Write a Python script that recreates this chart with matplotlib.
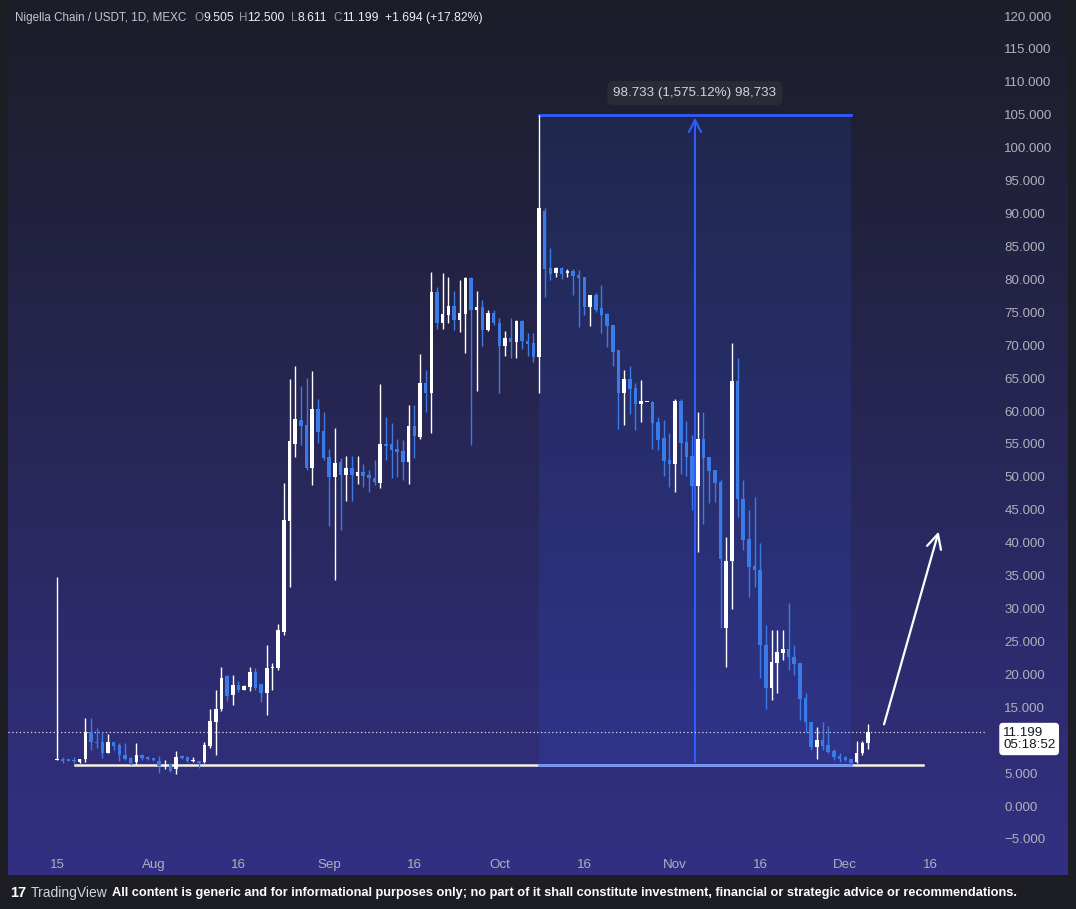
import numpy as np
import pandas as pd
import matplotlib.pyplot as plt
from matplotlib.patches import Rectangle

# Nigella Chain / USDT daily candles (index 0 = Jul 15)
opens = [7.0, 7.1, 7.0, 7.0, 6.7, 7.1, 11.2, 9.8, 9.7, 8.1,
         9.7, 9.2, 7.8, 7.3, 6.7, 7.8, 7.4, 7.3, 6.9, 6.1,
         6.4, 5.7, 7.6, 7.5, 6.8, 6.8, 6.7, 9.1, 12.8, 14.8,
         19.7, 16.9, 18.4, 17.7, 18.1, 20.3, 18.5, 17.1, 20.9, 21.0,
         26.5, 43.3, 55.0, 58.7, 57.9, 51.4, 60.3, 57.0, 53.0, 50.0,
         52.2, 50.3, 51.4, 50.2, 50.8, 50.3, 49.9, 49.1, 55.0, 55.0,
         54.2, 53.9, 52.2, 57.7, 56.1, 64.3, 62.8, 78.1, 73.4, 74.6,
         76.0, 73.9, 74.8, 80.2, 75.3, 75.8, 72.3, 74.9, 73.4, 69.9,
         71.1, 70.5, 73.7, 70.7, 70.3, 68.2, 90.4, 81.7, 80.9, 81.8,
         81.0, 81.3, 80.7, 80.3, 75.8, 77.7, 75.6, 74.7, 73.1, 69.3,
         62.7, 64.9, 63.5, 61.1, 61.4, 61.4, 58.3, 55.9, 52.6, 52.0,
         61.5, 55.3, 53.2, 48.6, 55.7, 53.0, 51.1, 49.2, 27.1, 37.2,
         64.6, 46.7, 40.6, 36.5, 35.9, 24.5, 17.9, 21.8, 23.2, 23.8,
         22.6, 21.8, 16.4, 12.8, 9.0, 10.0, 9.3, 8.4, 7.6, 7.4,
         7.1, 6.7, 8.0, 9.505]
highs = [34.8, 7.4, 7.1, 7.4, 7.2, 13.3, 13.3, 11.8, 11.3, 11.0,
         9.8, 9.5, 9.5, 7.4, 9.5, 7.9, 7.6, 7.3, 7.6, 7.0,
         6.5, 8.3, 7.8, 7.6, 7.4, 6.9, 9.8, 14.7, 17.6, 21.1,
         19.9, 19.9, 19.0, 18.4, 21.1, 21.0, 18.6, 24.5, 21.7, 27.6,
         49.0, 64.8, 66.8, 63.8, 65.0, 66.1, 61.9, 59.9, 54.2, 57.5,
         52.8, 53.2, 53.2, 53.2, 52.0, 51.0, 52.6, 64.1, 59.1, 58.2,
         55.7, 55.6, 60.9, 60.9, 68.7, 66.3, 81.1, 78.9, 81.0, 80.4,
         78.2, 79.9, 80.4, 80.4, 78.2, 76.8, 75.3, 75.3, 74.1, 72.2,
         74.1, 73.9, 73.9, 71.9, 71.8, 105.0, 90.8, 84.7, 81.9, 81.9,
         81.6, 81.6, 81.4, 80.4, 77.6, 77.9, 79.1, 74.9, 73.1, 69.3,
         66.2, 66.9, 64.2, 64.7, 61.4, 61.5, 59.1, 58.6, 56.6, 61.8,
         61.8, 58.5, 56.4, 59.9, 59.9, 53.0, 51.1, 49.5, 40.9, 70.4,
         68.0, 49.5, 45.0, 47.0, 39.9, 27.5, 26.8, 26.7, 26.7, 30.9,
         24.5, 21.8, 17.1, 12.8, 12.0, 12.8, 12.1, 8.7, 8.0, 7.6,
         7.1, 9.9, 9.9, 12.5]
lows = [7.0, 6.5, 6.8, 6.5, 6.6, 6.7, 8.5, 8.8, 7.3, 8.0,
        8.5, 6.9, 7.0, 6.3, 6.4, 7.0, 7.0, 6.9, 5.0, 5.7,
        5.1, 4.9, 7.2, 6.7, 6.7, 5.8, 6.6, 8.8, 7.7, 14.5,
        15.9, 15.4, 17.3, 17.6, 17.5, 17.6, 15.8, 13.8, 17.6, 20.6,
        26.0, 33.3, 53.0, 54.8, 51.0, 48.8, 55.1, 52.6, 42.5, 34.3,
        42.0, 46.3, 46.3, 48.9, 48.5, 47.7, 48.8, 48.3, 52.6, 49.9,
        50.0, 49.6, 48.9, 52.8, 55.8, 59.9, 56.7, 72.4, 72.4, 73.3,
        72.3, 72.0, 68.8, 54.8, 63.0, 69.9, 72.2, 73.1, 62.8, 68.4,
        68.1, 68.0, 69.5, 68.4, 67.5, 62.7, 77.4, 79.9, 80.3, 80.0,
        80.3, 77.7, 72.7, 74.6, 72.9, 75.1, 71.8, 69.7, 66.9, 57.3,
        57.9, 59.5, 57.1, 58.3, 61.4, 54.2, 54.1, 50.1, 48.5, 47.7,
        50.4, 50.1, 45.0, 38.6, 42.8, 46.0, 46.2, 27.0, 21.1, 30.0,
        43.9, 38.9, 31.8, 33.3, 19.5, 14.8, 16.1, 17.1, 22.2, 20.7,
        19.9, 13.1, 11.3, 8.5, 7.2, 8.5, 8.0, 7.0, 6.7, 6.8,
        6.27, 6.6, 7.8, 8.611]
closes = [7.2, 6.8, 6.9, 6.8, 7.1, 11.2, 9.7, 9.6, 8.1, 9.7,
          9.1, 7.8, 7.2, 6.6, 7.8, 7.3, 7.1, 7.0, 6.1, 6.3,
          5.3, 7.5, 7.3, 6.8, 7.0, 6.5, 9.2, 12.9, 14.8, 19.5,
          16.7, 18.4, 17.7, 18.2, 20.3, 18.0, 17.1, 20.9, 21.1, 26.7,
          43.4, 55.4, 58.8, 57.7, 51.3, 60.3, 56.8, 52.8, 50.0, 52.1,
          50.3, 51.4, 50.3, 50.8, 50.1, 49.9, 49.2, 55.0, 54.7, 54.1,
          53.8, 52.2, 57.7, 56.2, 64.3, 62.8, 78.1, 73.4, 74.7, 76.0,
          73.9, 74.9, 80.2, 75.3, 75.8, 72.3, 74.9, 73.3, 69.9, 71.1,
          70.5, 73.7, 70.6, 70.2, 68.2, 90.8, 81.6, 80.8, 81.8, 80.8,
          81.2, 80.5, 80.2, 75.8, 77.6, 75.3, 74.6, 72.9, 69.0, 62.7,
          64.9, 63.3, 61.1, 61.5, 61.4, 58.2, 55.6, 52.4, 52.0, 61.5,
          55.2, 53.0, 48.6, 55.7, 52.9, 50.9, 49.1, 37.6, 37.2, 64.6,
          46.7, 40.4, 36.3, 35.8, 24.5, 17.9, 21.9, 23.4, 23.8, 22.6,
          21.6, 16.3, 12.8, 9.0, 10.0, 9.1, 8.2, 7.5, 7.1, 7.0,
          6.6, 8.0, 9.5, 11.199]

tick_dates = ['2024-07-15', '2024-08-01', '2024-08-16', '2024-09-01', '2024-09-16',
              '2024-10-01', '2024-10-16', '2024-11-01', '2024-11-16', '2024-12-01',
              '2024-12-16']
tick_labels = ['15', 'Aug', '16', 'Sep', '16', 'Oct', '16', 'Nov', '16', 'Dec', '16']
# 10.000 sits under the last-price box on the original, so it is not shown
price_ticks = [v for v in range(-5, 121, 5) if v != 10]

last_price = 11.199
countdown = '05:18:52'
support_level = 6.23
support_span = (3.2, 152.7)
meas_span = (85, 140)
meas_range = (6.267, 105.0)
meas_label = '98.733 (1,575.12%) 98,733'
arrow_from = (145.7, 12.0)
arrow_to = (155.6, 42.1)

W, H = 1076, 909
UP, DOWN = '#ffffff', '#3b7be8'
LABEL = '#aeb1bb'

plt.rcParams['font.family'] = ['Liberation Sans', 'DejaVu Sans']

fig = plt.figure(figsize=(W / 100, H / 100), dpi=100)
fig.patch.set_facecolor('#1d1e23')

# gradient panel
bg = fig.add_axes([8 / W, 1 - 875 / H, 1060 / W, 875 / H])
top = np.array([0x1c, 0x1d, 0x28]) / 255
bot = np.array([0x33, 0x30, 0x84]) / 255
t = np.linspace(0, 1, 256)[:, None, None]
grad = top * (1 - t) + bot * t
bg.imshow(grad, aspect='auto', extent=(0, 1, 0, 1))
bg.set_axis_off()

ax = fig.add_axes([8 / W, 1 - 845 / H, 977 / W, 845 / H])
ax.set_facecolor('none')
ax.set_xlim(-8.64, 163.64)
ax.set_ylim(-5.92, 122.44)
for s in ax.spines.values():
    s.set_visible(False)

o = np.array(opens); h = np.array(highs); l = np.array(lows); c = np.array(closes)
x = np.arange(len(o))
cols = np.where(c >= o, UP, DOWN)

# measuring tool
ax.add_patch(Rectangle((meas_span[0], meas_range[0]), meas_span[1] - meas_span[0],
                       meas_range[1] - meas_range[0], facecolor='#2962ff', alpha=0.13,
                       edgecolor='none', zorder=1))
ax.plot(meas_span, [meas_range[1]] * 2, color='#2f5cff', lw=2, zorder=2)
mid = sum(meas_span) / 2
ax.annotate('', xy=(mid, meas_range[1]), xytext=(mid, meas_range[0]),
            arrowprops=dict(arrowstyle='->', color='#2f5cff', lw=1.5, mutation_scale=22),
            zorder=2)
ax.text(mid, 108.3, meas_label, ha='center', va='center', color='#d1d4dc', fontsize=9.6,
        bbox=dict(boxstyle='round,pad=0.45', fc='#2a2c35', ec='none'), zorder=6)

# support line
ax.plot(support_span, [support_level] * 2, color='#f4f1e6', lw=1.8, zorder=2)
ax.plot(meas_span, [support_level] * 2, color='#6a8dff', lw=1.8, zorder=2)

# candles
ax.vlines(x, l, h, colors=cols, lw=1, zorder=3)
body = np.maximum(np.abs(c - o), 0.18)
ax.bar(x, body, bottom=np.minimum(o, c), width=0.62, color=cols, zorder=4)

# last price line
ax.axhline(last_price, color='#dcdcf0', lw=0.9, ls=(0, (1, 2)), zorder=2)

# hand drawn arrow
ax.annotate('', xy=arrow_to, xytext=arrow_from,
            arrowprops=dict(arrowstyle='->', color='white', lw=1.6, mutation_scale=26))

# axes
start = pd.Timestamp(tick_dates[0])
ax.set_xticks([(pd.Timestamp(d) - start).days for d in tick_dates], tick_labels)
ax.yaxis.tick_right()
ax.set_yticks(price_ticks, [f'{v:.3f}'.replace('-', '\u2212') for v in price_ticks])
ax.tick_params(axis='x', length=0, pad=10, labelcolor=LABEL, labelsize=9.6)
ax.tick_params(axis='y', length=0, pad=14, labelcolor=LABEL, labelsize=9.6)

# price box on the axis
fig.text(1003 / W, 1 - 739 / H, f'{last_price:.3f}\n{countdown}', ha='left', va='center',
         color='#131722', fontsize=9.6, linespacing=1.1,
         bbox=dict(boxstyle='round,pad=0.28', fc='white', ec='none'), zorder=10)

# header line
r = fig.canvas.get_renderer()
parts = [('Nigella Chain / USDT, 1D, MEXC', '#c3c6cf', 8.4, 8),
         ('O', '#9598a1', 8.4, 0), ('9.505', '#eceef2', 8.8, 5),
         ('H', '#9598a1', 8.4, 0), ('12.500', '#eceef2', 8.8, 6),
         ('L', '#9598a1', 8.4, 0), ('8.611', '#eceef2', 8.8, 7),
         ('C', '#9598a1', 8.4, 0), ('11.199', '#eceef2', 8.8, 6),
         ('+1.694 (+17.82%)', '#eceef2', 8.8, 0)]
xp = 15
for s, col, size, gap in parts:
    tx = fig.text(xp / W, 1 - 18 / H, s, color=col, fontsize=size,
                  ha='left', va='center')
    xp += tx.get_window_extent(renderer=r).width + gap

# footer
fig.text(10 / W, 1 - 893 / H, '17', color='white', fontsize=10.5, fontweight='heavy',
         ha='left', va='center')
fig.text(31 / W, 1 - 893 / H, 'TradingView', color='#d1d4dc', fontsize=10,
         ha='left', va='center')
fig.text(112 / W, 1 - 893 / H,
         'All content is generic and for informational purposes only; no part of it shall '
         'constitute investment, financial or strategic advice or recommendations.',
         color='white', fontsize=9.2, fontweight='bold', ha='left', va='center')

fig.savefig('out.png', dpi=100, facecolor=fig.get_facecolor())
